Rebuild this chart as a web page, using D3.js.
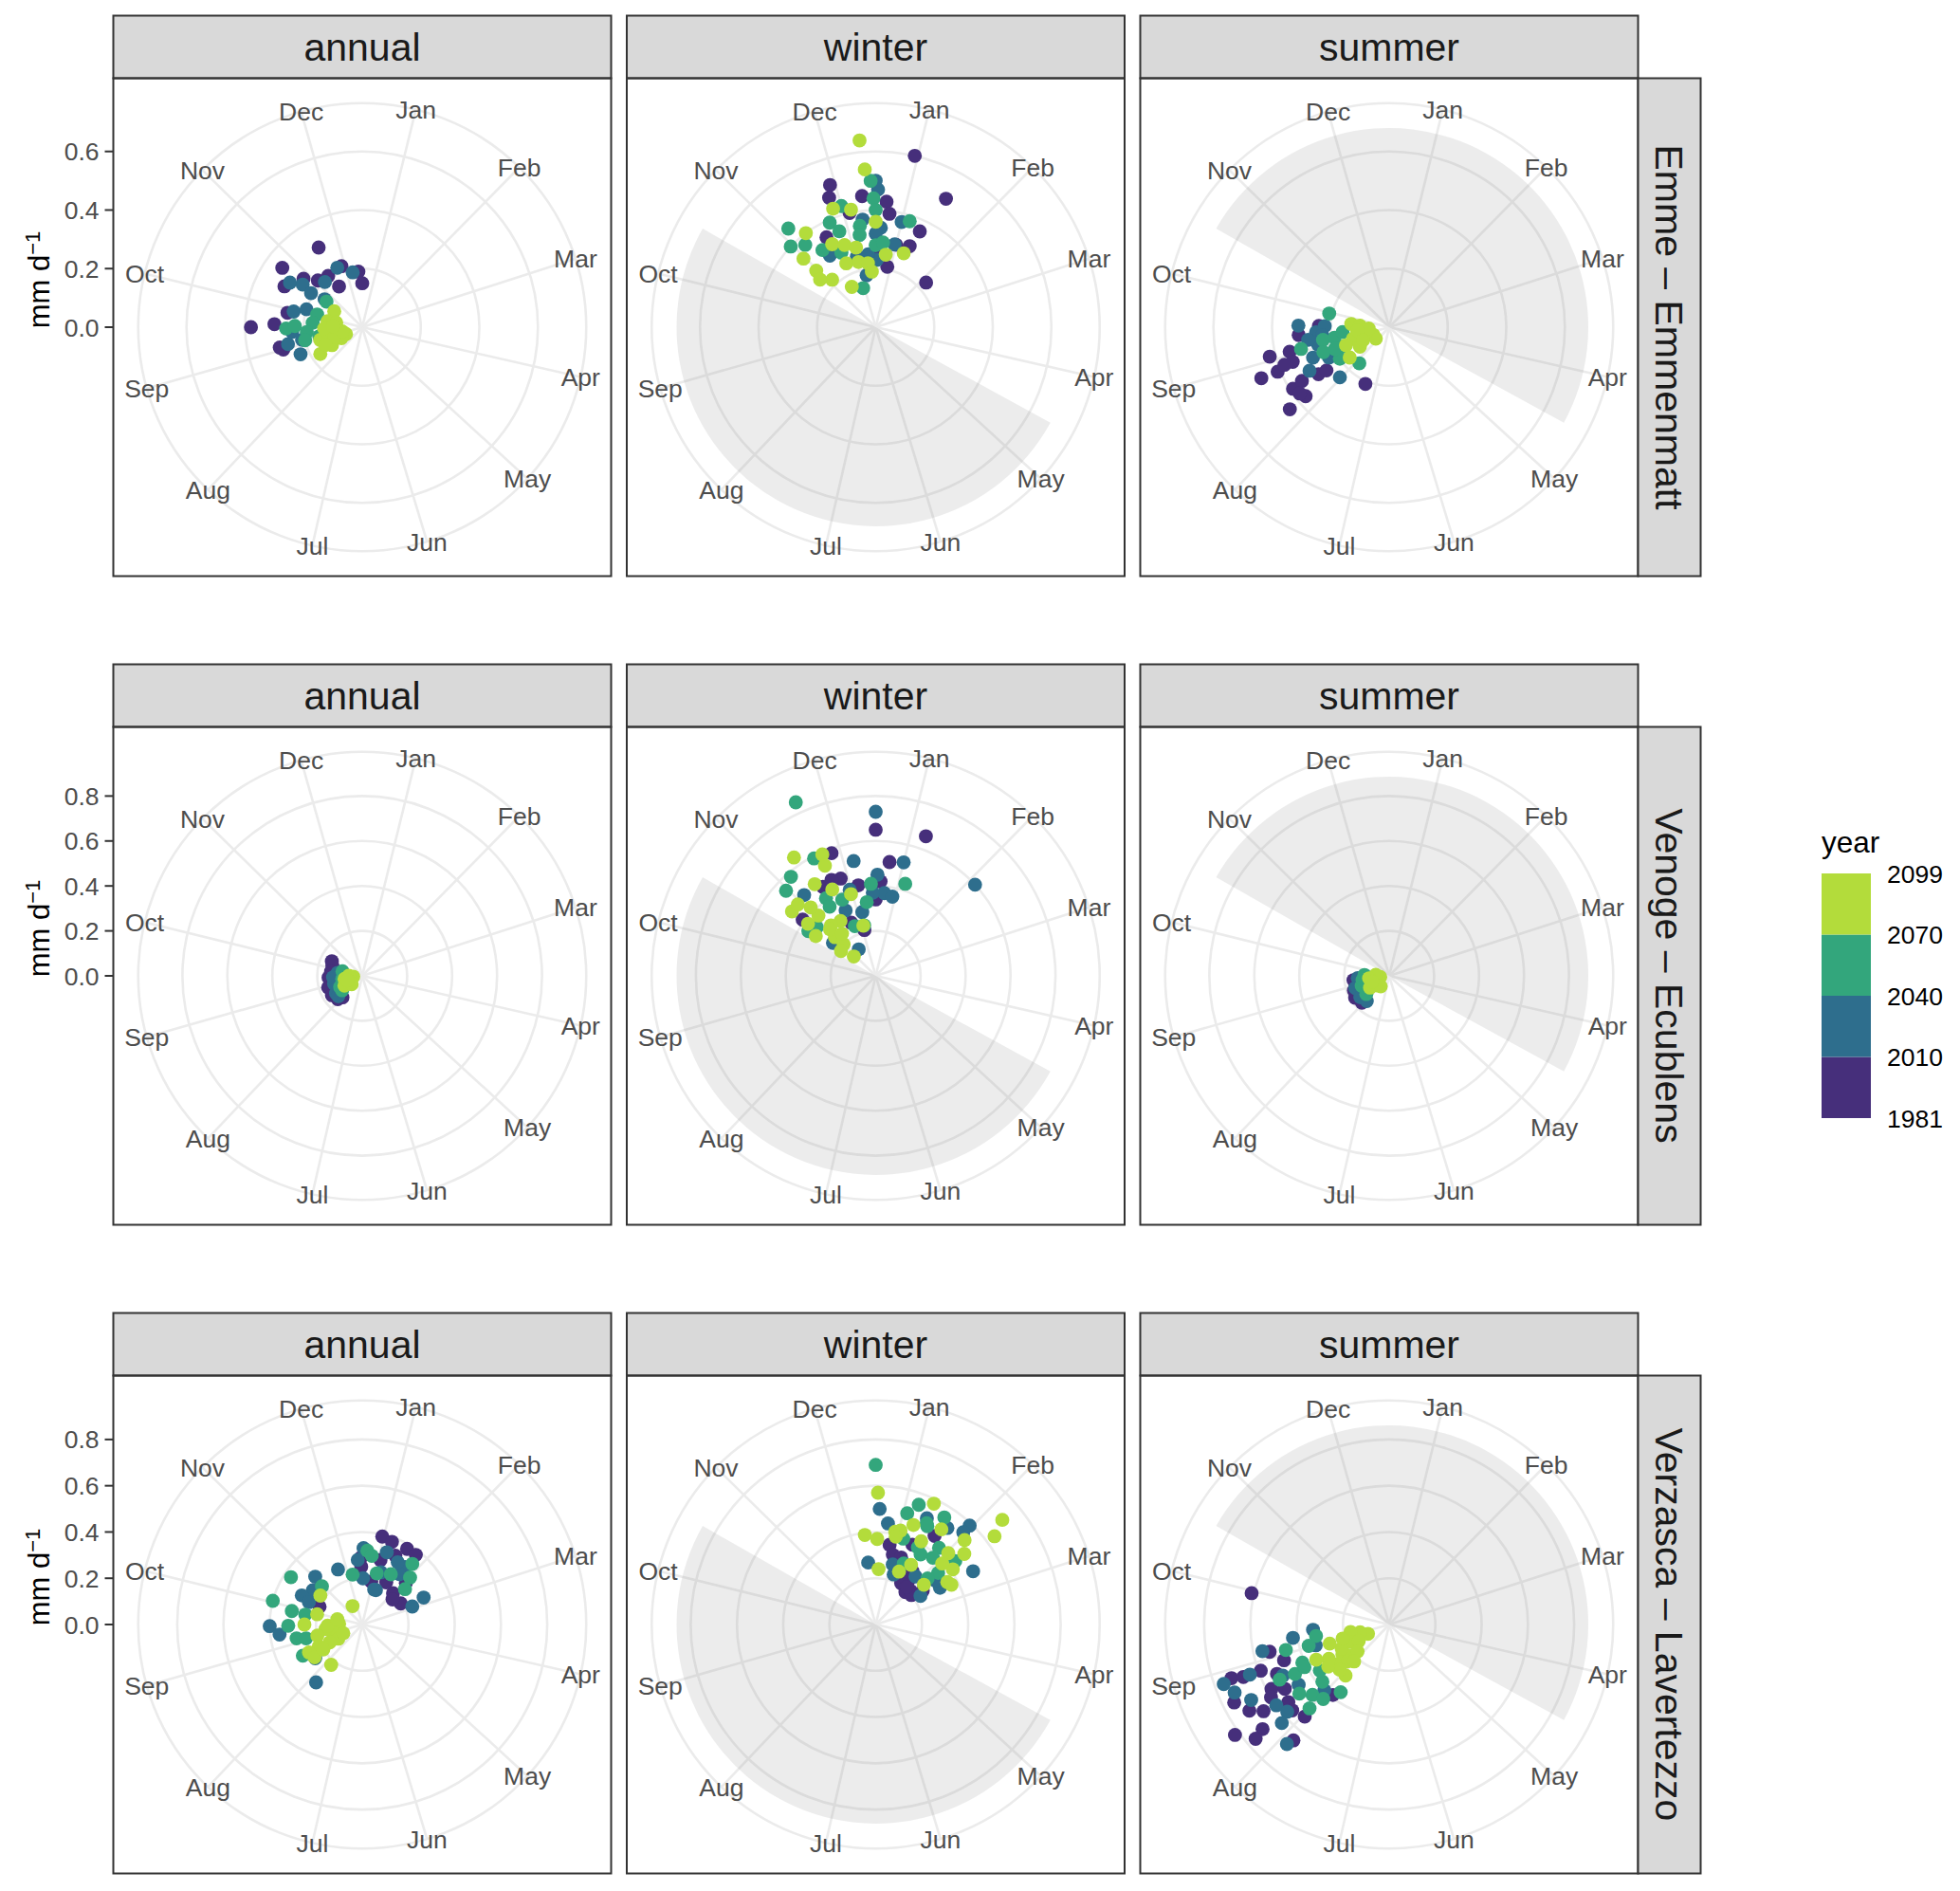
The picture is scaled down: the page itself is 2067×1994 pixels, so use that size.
<!DOCTYPE html>
<html>
<head>
<meta charset="utf-8">
<script src="https://cdn.jsdelivr.net/npm/d3@7"></script>
<style>
  body { margin: 0; background: #fff; }
  text { font-family: "Liberation Sans", Arial, Helvetica, sans-serif; }
</style>
</head>
<body>
<div id="chart"></div>
<script>
//----------------------------------
// Data
//----------------------------------
const months = ["Jan", "Feb", "Mar", "Apr", "May", "Jun", "Jul", "Aug", "Sep", "Oct", "Nov", "Dec"];
const monthDays = [15, 46, 74, 105, 135, 166, 196, 227, 258, 288, 319, 349];   // mid-month day of year
const seasons = ["annual", "winter", "summer"];
const stations = ["Emme \u2013 Emmenmatt", "Venoge \u2013 Ecublens", "Verzasca \u2013 Lavertezzo"];
const rTicks = [[0, 0.2, 0.4, 0.6], [0, 0.2, 0.4, 0.6, 0.8], [0, 0.2, 0.4, 0.6, 0.8]];
const rMax = [0.68, 0.886, 0.861];
const yearBreaks = [1981, 2010, 2040, 2070, 2099];
const yearColours = ["#462f7b", "#2e6e8d", "#33a67c", "#b3dc3b"];
// shaded part of the year: winter panels shade May-Oct, summer panels shade Nov-Apr
const shadeDays = {winter: [121, 304], summer: [304, 121]};

// [day of year, mm/d, year]
const emmeAnnual = [
  [336,.31,1981],[311,.34,1983],[274,.38,1985],[276,.30,1987],[302,.30,1989],[314,.26,1991],[321,.22,1993],[346,.22,1995],
  [361,.19,1997],[1,.15,1999],[335,.16,2001],[331,.21,2003],[260,.29,2005],[285,.26,2007],[258,.28,2009],
  [342,.22,2010],[355,.19,2012],[306,.29,2014],[310,.25,2016],[325,.20,2018],[308,.21,2020],[311,.16,2022],[287,.24,2024],
  [292,.20,2026],[261,.26,2028],[250,.23,2030],[262,.21,2032],[270,.24,2034],
  [310,.15,2040],[290,.16,2043],[279,.17,2046],[273,.26,2049],[275,.23,2052],[269,.19,2055],[262,.15,2058],[261,.20,2061],
  [304,.11,2070],[284,.12,2072],[284,.09,2074],[251,.06,2076],[257,.15,2078],[243,.12,2080],[241,.17,2082],[265,.12,2084],
  [266,.08,2086],[272,.13,2088],[246,.08,2090],[255,.10,2092],[262,.07,2094],[276,.10,2096],[248,.14,2098]
];
const emmeWinter = [
  [14,.60,1981],[30,.50,1983],[50,.23,1985],[347,.51,1987],[345,.47,1989],[359,.45,1991],[6,.43,1993],[8,.39,1995],
  [26,.36,1997],[24,.30,1999],[12,.21,2001],[336,.35,2003],[352,.40,2005],[365,.25,2007],[15,.29,2009],
  [1,.50,2010],[2,.47,2012],[15,.37,2014],[4,.34,2016],[365,.32,2018],[358,.37,2020],[14,.29,2022],[2,.23,2024],
  [355,.18,2026],[350,.25,2028],[332,.29,2030],[359,.25,2032],
  [323,.45,2040],[318,.40,2041],[324,.37,2042],[349,.43,2043],[363,.50,2044],[364,.44,2045],[365,.40,2046],[341,.39,2047],
  [344,.35,2048],[356,.35,2049],[19,.38,2050],[1,.28,2051],[6,.29,2052],[347,.14,2053],[340,.28,2054],[355,.32,2055],[330,.32,2056],
  [360,.64,2070],[361,.54,2071],[345,.43,2072],[353,.41,2073],[1,.36,2074],[328,.40,2075],[337,.32,2076],[344,.30,2077],
  [351,.28,2078],[318,.34,2079],[318,.28,2080],[322,.22,2081],[334,.16,2082],[350,.23,2083],[358,.22,2084],[361,.19,2085],
  [9,.25,2086],[22,.27,2087],[315,.25,2088],[340,.24,2089]
];
const emmeSummer = [
  [260,.42,1981],[252,.47,1983],[252,.41,1985],[260,.35,1987],[254,.35,1989],[241,.39,1991],[234,.37,1993],[234,.44,1995],
  [242,.35,1997],[275,.24,1999],[240,.29,2001],[239,.26,2003],[206,.21,2005],[269,.31,2007],[254,.38,2008],[237,.38,2009],
  [275,.31,2010],[270,.25,2013],[275,.22,2016],[245,.31,2019],[252,.28,2022],[228,.24,2025],[260,.25,2028],[247,.23,2031],
  [265,.28,2034],[267,.23,2037],
  [287,.21,2040],[263,.23,2043],[260,.31,2046],[263,.19,2049],[253,.24,2052],[241,.20,2055],[223,.16,2058],[251,.17,2061],
  [252,.20,2064],[268,.16,2067],
  [279,.13,2070],[277,.10,2072],[248,.06,2074],[233,.06,2076],[262,.08,2078],[256,.13,2080],[251,.16,2082],[236,.17,2084],
  [240,.12,2086],[270,.07,2088],[268,.11,2090],[247,.10,2092]
];
const venogeAnnual = [
  [300,.15,1982],[293,.14,1985],[271,.15,1989],[255,.16,1993],[241,.16,1997],[230,.15,2001],[282,.14,2005],[226,.13,2008],
  [281,.11,2012],[258,.13,2018],[240,.14,2024],[233,.14,2030],[271,.13,2036],
  [287,.09,2043],[247,.11,2050],[265,.09,2057],[238,.11,2064],
  [269,.04,2072],[274,.06,2076],[264,.08,2080],[248,.06,2084],[245,.09,2088],[235,.06,2092],[257,.07,2096]
];
const venogeWinter = [
  [365,.65,1981],[21,.66,1983],[8,.51,1985],[345,.58,1987],[345,.46,1989],[354,.41,1991],[4,.42,1993],[365,.34,1995],
  [351,.21,1997],[312,.41,1999],[340,.26,2001],[334,.46,2003],[340,.47,2005],
  [365,.73,2010],[49,.60,2012],[15,.52,2014],[354,.52,2016],[348,.40,2018],[2,.45,2020],[7,.37,2022],[13,.36,2024],
  [353,.29,2026],[332,.14,2028],[312,.24,2030],[323,.48,2032],[340,.32,2034],[363,.37,2036],
  [340,.85,2040],[337,.59,2042],[324,.58,2044],[318,.55,2046],[362,.41,2048],[358,.33,2050],[352,.23,2052],[342,.24,2054],
  [308,.36,2056],[332,.41,2058],[341,.37,2060],[331,.37,2062],[314,.34,2064],[19,.43,2066],
  [341,.59,2070],[330,.64,2071],[340,.54,2072],[331,.49,2073],[338,.43,2074],[348,.38,2075],[316,.13,2076],[319,.20,2077],
  [310,.19,2078],[318,.25,2079],[332,.29,2080],[323,.30,2081],[308,.32,2082],[312,.38,2083],[321,.37,2084],[321,.42,2085],
  [312,.47,2086],[317,.47,2087],[320,.29,2088],[326,.24,2089],[351,.23,2090]
];
const venogeSummer = [
  [267,.16,1984],[251,.17,1990],[241,.18,1996],[229,.17,2003],
  [270,.14,2013],[254,.16,2020],[237,.16,2027],[225,.15,2034],
  [276,.11,2043],[254,.13,2050],[235,.13,2057],[265,.12,2064],
  [267,.04,2072],[278,.06,2076],[267,.09,2080],[236,.07,2084],[242,.10,2088],[222,.06,2092],[255,.08,2096]
];
const verzascaAnnual = [
  [14,.39,1981],[21,.38,1983],[364,.29,1985],[364,.25,1987],[27,.33,1989],[32,.38,1991],[39,.38,1993],[13,.19,1995],
  [31,.21,1997],[46,.19,1999],[63,.19,2001],[48,.26,2003],[52,.17,2005],[17,.29,2007],[297,.20,2009],
  [2,.33,2010],[20,.33,2011],[38,.31,2012],[38,.27,2013],[21,.24,2014],[2,.20,2015],[23,.16,2016],[72,.23,2017],
  [68,.29,2018],[31,.31,2019],[361,.28,2020],[341,.26,2021],[20,.16,2022],[320,.29,2023],[309,.26,2024],[300,.29,2025],
  [297,.25,2026],[273,.40,2027],[267,.36,2028],[222,.32,2029],[238,.25,2030],
  [5,.32,2040],[9,.30,2041],[41,.34,2042],[47,.29,2043],[31,.25,2044],[17,.23,2045],[354,.22,2046],[52,.24,2047],
  [308,.37,2048],[318,.24,2049],[289,.40,2050],[285,.31,2051],[284,.25,2052],[273,.32,2053],[262,.29,2054],[260,.25,2055],[246,.29,2056],
  [309,.22,2070],[287,.20,2071],[274,.25,2072],[337,.09,2073],[276,.10,2074],[258,.13,2075],[267,.16,2076],[260,.20,2077],
  [243,.12,2078],[245,.16,2079],[247,.21,2080],[246,.26,2081],[239,.25,2082],[221,.22,2083],[249,.09,2084],[272,.15,2085],
  [286,.11,2086],[241,.20,2087]
];
const verzascaWinter = [
  [11,.35,1982],[38,.24,1984],[35,.46,1986],[44,.19,1988],[26,.38,1990],[52,.20,1992],[15,.31,1994],[30,.25,1996],
  [33,.21,1998],[22,.31,2000],[48,.21,2002],[56,.25,2004],[41,.21,2006],[36,.28,2008],
  [3,.50,2010],[8,.44,2012],[45,.59,2014],[45,.55,2016],[63,.48,2018],[27,.51,2020],[38,.52,2022],[62,.32,2024],
  [55,.32,2026],[358,.27,2028],[17,.27,2030],[59,.23,2032],[41,.27,2034],[21,.23,2036],
  [1,.69,2040],[17,.50,2042],[21,.55,2044],[34,.55,2046],[19,.39,2048],[28,.49,2050],[29,.48,2052],[30,.38,2054],
  [41,.43,2056],[42,.38,2058],[53,.44,2060],[52,.35,2062],[26,.29,2064],[50,.30,2066],[34,.36,2068],
  [2,.57,2070],[52,.71,2071],[55,.64,2072],[48,.53,2073],[53,.49,2074],[358,.39,2075],[2,.37,2076],[13,.41,2077],
  [16,.42,2078],[22,.46,2079],[36,.50,2080],[30,.41,2081],[47,.44,2082],[56,.41,2083],[49,.39,2084],[61,.36,2085],
  [64,.37,2086],[4,.24,2087],[32,.30,2088],[25,.25,2089],[52,.27,2090],[14,.39,2091],[27,.58,2092]
];
const verzascaSummer = [
  [287,.61,1981],[261,.53,1982],[255,.48,1983],[254,.59,1984],[255,.72,1985],[254,.67,1986],[250,.53,1987],[245,.58,1988],
  [247,.75,1989],[242,.71,1990],[239,.66,1991],[242,.60,1992],[236,.55,1993],[226,.54,1994],[234,.71,1995],[233,.76,1996],
  [238,.82,1997],[223,.65,1998],[222,.39,1999],[242,.53,2000],[232,.56,2001],
  [270,.33,2010],[266,.42,2012],[262,.56,2014],[254,.64,2016],[254,.76,2018],[250,.73,2020],[245,.68,2022],[238,.60,2024],
  [233,.58,2026],[231,.63,2028],[224,.68,2030],[240,.47,2032],[228,.40,2034],[258,.33,2036],[248,.51,2038],
  [265,.32,2040],[259,.36,2042],[260,.46,2044],[250,.41,2046],[246,.46,2048],[233,.38,2050],[231,.45,2052],[225,.43,2054],
  [236,.49,2056],[227,.50,2058],[219,.36,2060],[247,.53,2062],[240,.36,2064],[247,.41,2066],
  [250,.10,2070],[241,.24,2071],[259,.13,2072],[252,.20,2073],[263,.17,2074],[236,.22,2075],[249,.18,2076],[245,.15,2077],
  [247,.23,2078],[256,.27,2080],[233,.18,2082],[232,.24,2084],[237,.29,2086],[244,.30,2088],[224,.29,2090],[231,.29,2092],
  [227,.22,2094],[248,.35,2096],[239,.32,2097],[257,.21,2098]
];
const panelData = [
  [emmeAnnual, emmeWinter, emmeSummer],
  [venogeAnnual, venogeWinter, venogeSummer],
  [verzascaAnnual, verzascaWinter, verzascaSummer]
];

//----------------------------------
// Layout
//----------------------------------
const width = 2067, height = 1994;
const P = 525;                         // panel size (square, polar)
const colX = [382, 923.5, 1465];       // panel centres
const rowY = [345, 1029, 1713];
const stripH = 66;
const gridCol = "#ebebeb", borderCol = "#333333", axisTextCol = "#4d4d4d";

const svg = d3.select("#chart")
    .append("svg")
    .attr("width", width)
    .attr("height", height);

svg.append("rect").attr("width", width).attr("height", height).attr("fill", "#fff");

const theta = d3.scaleLinear().domain([1, 365]).range([0, 2 * Math.PI]);
const colour = d3.scaleThreshold().domain(yearBreaks.slice(1, 4)).range(yearColours);

stations.forEach((station, i) => {
    const r = d3.scaleLinear().domain([0, rMax[i]]).range([0, 0.4 * P]);
    const cy = rowY[i];

    seasons.forEach((season, j) => {
        const cx = colX[j];
        const left = cx - P / 2, top = cy - P / 2;

        // strip on top
        svg.append("rect")
            .attr("x", left).attr("y", top - stripH)
            .attr("width", P).attr("height", stripH)
            .attr("fill", "#d9d9d9").attr("stroke", borderCol).attr("stroke-width", 2);
        svg.append("text")
            .attr("x", cx).attr("y", top - stripH / 2)
            .attr("dy", "0.36em")
            .attr("text-anchor", "middle")
            .style("font-size", "41px").attr("fill", "#1a1a1a")
            .text(season);

        const g = svg.append("g").attr("transform", `translate(${cx},${cy})`);

        // grid: spokes and rings
        g.selectAll(".spoke").data(monthDays).join("line")
            .attr("class", "spoke")
            .attr("x1", 0).attr("y1", 0)
            .attr("x2", d => 0.45 * P * Math.sin(theta(d)))
            .attr("y2", d => -0.45 * P * Math.cos(theta(d)))
            .attr("stroke", gridCol).attr("stroke-width", 2.6);
        g.selectAll(".ring").data(rTicks[i].map(r).concat([0.45 * P])).join("circle")
            .attr("class", "ring")
            .attr("r", d => d)
            .attr("fill", "none")
            .attr("stroke", gridCol).attr("stroke-width", 2.6);

        // shaded half-year
        if (shadeDays[season]) {
            const [s, e] = shadeDays[season];
            let a0 = theta(s), a1 = theta(e);
            if (a1 < a0) a1 += 2 * Math.PI;
            g.append("path")
                .attr("d", d3.arc()({innerRadius: 0, outerRadius: 0.4 * P, startAngle: a0, endAngle: a1}))
                .attr("fill", "#7f7f7f").attr("fill-opacity", 0.15);
        }

        // points
        const pts = panelData[i][j].slice().sort((a, b) => a[2] - b[2]);
        g.selectAll(".pt").data(pts).join("circle")
            .attr("class", "pt")
            .attr("cx", d => r(d[1]) * Math.sin(theta(d[0])))
            .attr("cy", d => -r(d[1]) * Math.cos(theta(d[0])))
            .attr("r", 7.4)
            .attr("fill", d => colour(d[2]));

        // month labels
        g.selectAll(".month").data(monthDays).join("text")
            .attr("class", "month")
            .attr("x", d => 0.45 * P * Math.sin(theta(d)))
            .attr("y", d => -0.45 * P * Math.cos(theta(d)))
            .attr("dy", "0.36em")
            .attr("text-anchor", "middle")
            .style("font-size", "26.5px").attr("fill", axisTextCol)
            .text((d, k) => months[k]);

        // panel border
        svg.append("rect")
            .attr("x", left).attr("y", top)
            .attr("width", P).attr("height", P)
            .attr("fill", "none").attr("stroke", borderCol).attr("stroke-width", 2);

        // radial axis on the first column
        if (j === 0) {
            const ax = svg.append("g");
            ax.selectAll("line").data(rTicks[i]).join("line")
                .attr("x1", left - 9).attr("x2", left)
                .attr("y1", d => cy - r(d)).attr("y2", d => cy - r(d))
                .attr("stroke", borderCol).attr("stroke-width", 2);
            ax.selectAll("text").data(rTicks[i]).join("text")
                .attr("x", left - 15).attr("y", d => cy - r(d))
                .attr("dy", "0.36em")
                .attr("text-anchor", "end")
                .style("font-size", "26.5px").attr("fill", axisTextCol)
                .text(d => d3.format(".1f")(d));

            const title = svg.append("text")
                .attr("transform", `translate(52,${cy - 50}) rotate(-90)`)
                .attr("text-anchor", "middle")
                .style("font-size", "31px").attr("fill", "#000");
            title.append("tspan").text("mm d");
            title.append("tspan").attr("dy", "-0.45em").style("font-size", "22px").text("\u22121");
        }
    });

    // row strip on the right
    const sx = colX[2] + P / 2;
    svg.append("rect")
        .attr("x", sx).attr("y", cy - P / 2)
        .attr("width", stripH).attr("height", P)
        .attr("fill", "#d9d9d9").attr("stroke", borderCol).attr("stroke-width", 2);
    svg.append("text")
        .attr("transform", `translate(${sx + stripH / 2},${cy}) rotate(90)`)
        .attr("dy", "0.36em")
        .attr("text-anchor", "middle")
        .style("font-size", "41px").attr("fill", "#1a1a1a")
        .text(station);
});

//----------------------------------
// Legend (stepped colour bar)
//----------------------------------
const legX = 1921, barW = 52, barTop = 921, barBottom = 1179;
const legY = d3.scaleLinear().domain([0, yearBreaks.length - 1]).range([barBottom, barTop]);

svg.append("text")
    .attr("x", legX).attr("y", 899)
    .style("font-size", "31.5px").attr("fill", "#000")
    .text("year");

svg.selectAll(".bin").data(yearColours).join("rect")
    .attr("class", "bin")
    .attr("x", legX).attr("width", barW)
    .attr("y", (d, k) => legY(k + 1))
    .attr("height", (d, k) => legY(k) - legY(k + 1))
    .attr("fill", d => d);

svg.selectAll(".binlab").data(yearBreaks).join("text")
    .attr("class", "binlab")
    .attr("x", legX + barW + 17)
    .attr("y", (d, k) => legY(k))
    .attr("dy", "0.36em")
    .style("font-size", "26.5px").attr("fill", "#000")
    .text(d => d);
</script>
</body>
</html>
